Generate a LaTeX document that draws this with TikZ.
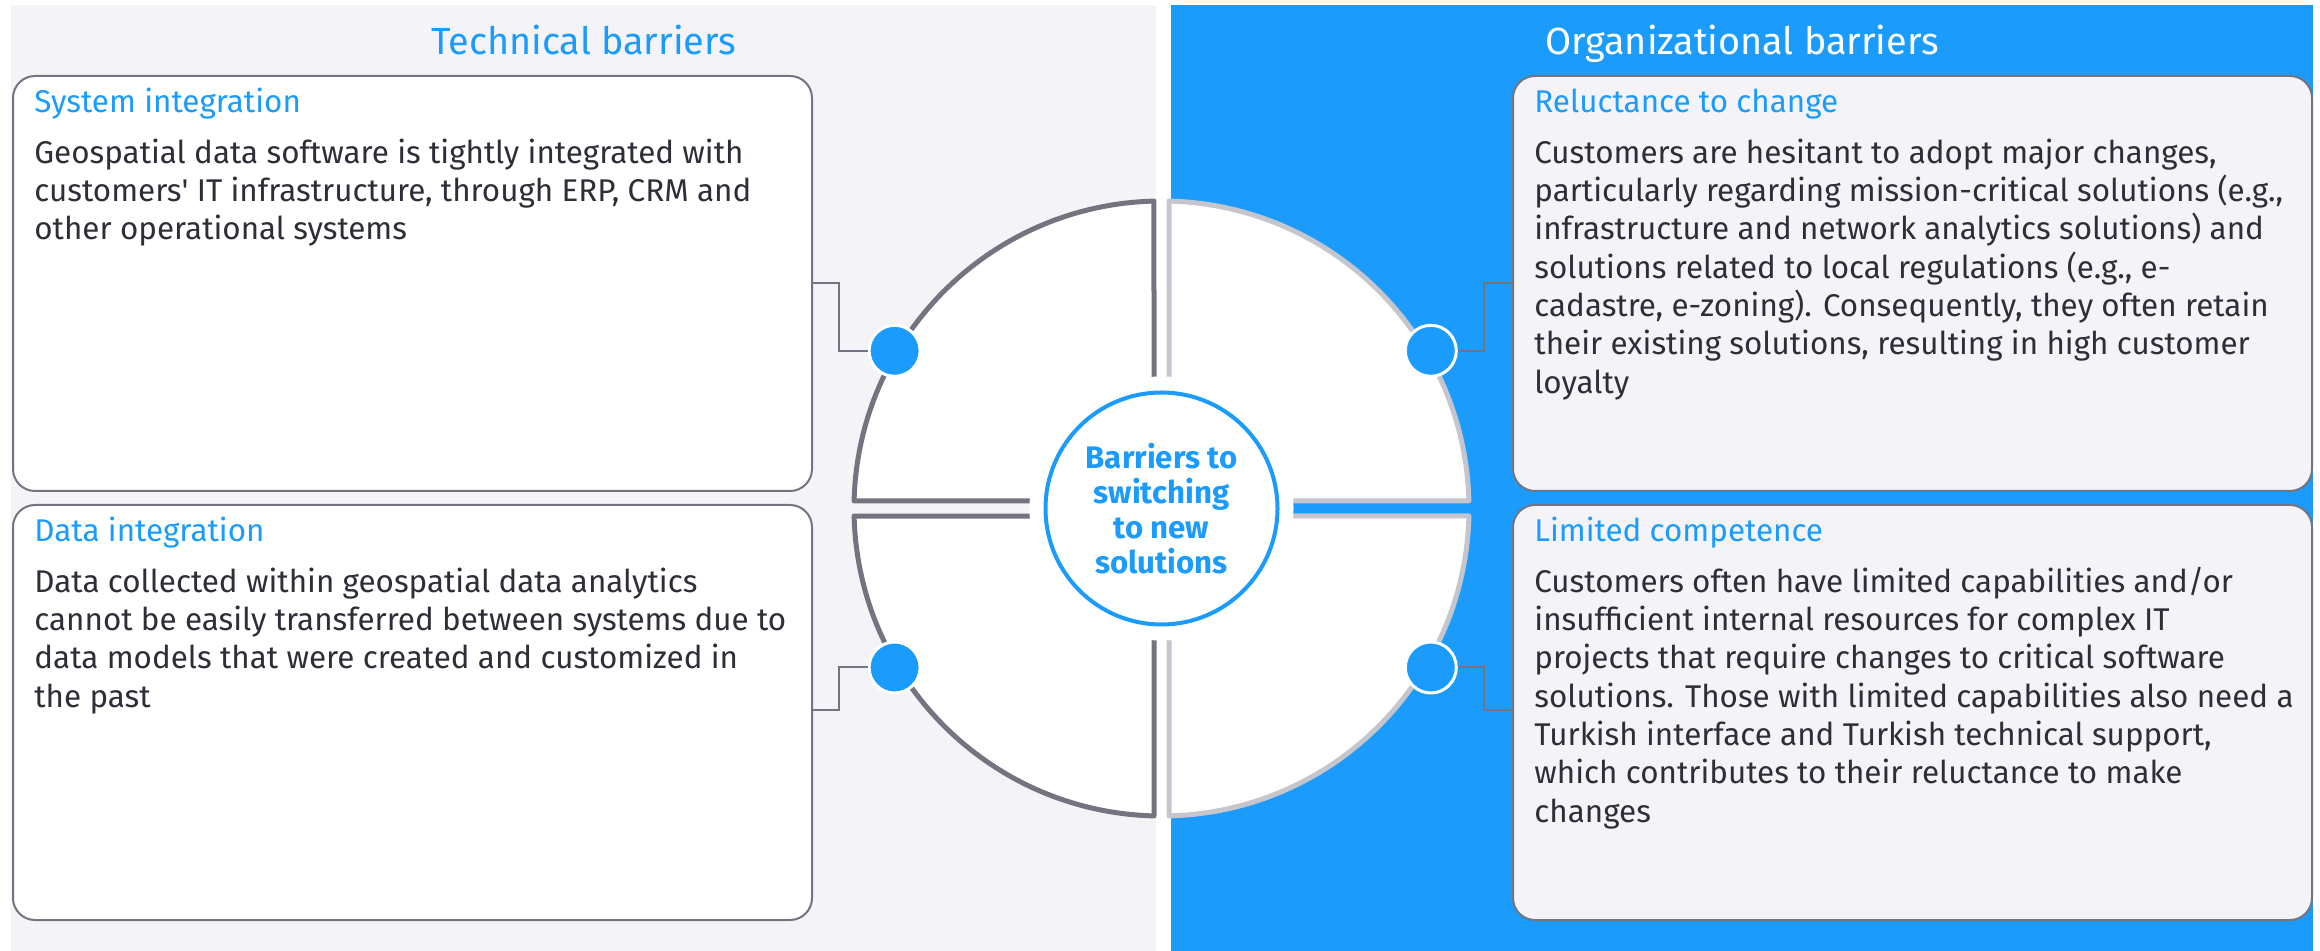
\documentclass[tikz,border=0pt]{standalone}
\usepackage{fontspec}
\setmainfont{Fira Sans}
\usetikzlibrary{calc}
\definecolor{eyblue}{RGB}{27,155,252}
\definecolor{panelgray}{RGB}{244,244,248}
\definecolor{darkline}{RGB}{116,116,128}
\definecolor{lightline}{RGB}{197,197,205}
\definecolor{textdark}{RGB}{46,46,56}
\newcommand{\bodyf}{\fontsize{15.7}{19.15}\selectfont}
\newcommand{\headf}{\fontsize{18.9}{22}\selectfont}
\newcommand{\centf}{\fontsize{15.6}{17.5}\selectfont\bfseries}
\tikzset{
  box/.style={draw=darkline, line width=1pt, rounded corners=11pt, anchor=north west,
    minimum width=399.5pt, minimum height=207.5pt, inner sep=0pt},
  boxtitle/.style={anchor=base west, inner sep=0pt, text=eyblue, font=\bodyf},
  boxbody/.style={anchor=north west, inner sep=0pt, align=left, text=textdark, font=\bodyf},
  dot/.style={circle, fill=eyblue, draw=white, line width=1.5pt, minimum size=25.5pt, inner sep=0pt},
  conn/.style={draw=darkline, line width=1pt},
  quadL/.style={fill=white, draw=darkline, line width=2.5pt, line join=round},
  quadR/.style={fill=white, draw=lightline, line width=2.5pt, line join=round},
  paneltitle/.style={anchor=base, inner sep=0pt, font=\headf}
}
\begin{document}
\begin{tikzpicture}[x=0.5pt,y=-0.5pt]
\useasboundingbox (0,0) rectangle (2320,951);
\fill[white] (0,0) rectangle (2320,951);
% panels
\fill[panelgray] (11,5) rectangle (1156,951);
\fill[eyblue] (1171,5) rectangle (2313,951);
% panel titles
\node[paneltitle, text=eyblue] (tt) at (583.5,55) {Technical barriers};
\node[paneltitle, text=white] (ot) at (1742,55) {Organizational barriers};
% boxes
\node[box, fill=white] (b1) at (12,75) {};
\node[box, fill=white] (b2) at (12,504) {};
\node[box, fill=panelgray] (b3) at (1512,75) {};
\node[box, fill=panelgray] (b4) at (1512,504) {};
% box titles
\node[boxtitle] (t1) at ($(b1.north west)+(22,38)$) {System integration};
\node[boxtitle] (t2) at ($(b2.north west)+(22,38)$) {Data integration};
\node[boxtitle] (t3) at ($(b3.north west)+(22,38)$) {Reluctance to change};
\node[boxtitle] (t4) at ($(b4.north west)+(22,38)$) {Limited competence};
% box bodies (first baseline at top+88)
\node[boxbody] (x1) at ($(b1.north west)+(22,88-26.8)$) {\rule{0pt}{13.4pt}Geospatial data software is tightly integrated with\\customers\textquotesingle{} IT infrastructure, through ERP, CRM and\\other operational systems};
\node[boxbody] (x2) at ($(b2.north west)+(22,88-26.8)$) {\rule{0pt}{13.4pt}Data collected within geospatial data analytics\\cannot be easily transferred between systems due to\\data models that were created and customized in\\the past};
\node[boxbody] (x3) at ($(b3.north west)+(22,88-26.8)$) {\rule{0pt}{13.4pt}Customers are hesitant to adopt major changes,\\particularly regarding mission-critical solutions (e.g.,\\infrastructure and network analytics solutions) and\\solutions related to local regulations (e.g., e-\\cadastre, e-zoning). Consequently, they often retain\\their existing solutions, resulting in high customer\\loyalty};
\node[boxbody] (x4) at ($(b4.north west)+(22,88-26.8)$) {\rule{0pt}{13.4pt}Customers often have limited capabilities and/or\\insufficient internal resources for complex IT\\projects that require changes to critical software\\solutions. Those with limited capabilities also need a\\Turkish interface and Turkish technical support,\\which contributes to their reluctance to make\\changes};
% quadrants
\coordinate (C) at (1161.5,508.5);
\def\g{7.5}
\def\rr{307.5}
\def\ss{307.41}
\def\aa{1.3976}
\path[quadL] ($(C)+(-\g,-\g)$) -- ($(C)+(-\ss,-\g)$) arc[start angle=180+\aa, end angle=270-\aa, radius=\rr] -- cycle;
\path[quadR] ($(C)+(\g,-\g)$) -- ($(C)+(\g,-\ss)$) arc[start angle=270+\aa, end angle=360-\aa, radius=\rr] -- cycle;
\path[quadR] ($(C)+(\g,\g)$) -- ($(C)+(\ss,\g)$) arc[start angle=\aa, end angle=90-\aa, radius=\rr] -- cycle;
\path[quadL] ($(C)+(-\g,\g)$) -- ($(C)+(-\g,\ss)$) arc[start angle=90+\aa, end angle=180-\aa, radius=\rr] -- cycle;
\fill[white] (C) circle[radius=132];
\node[circle, draw=eyblue, line width=2pt, fill=white, minimum size=116pt, inner sep=0pt,
  align=center, text=eyblue, font=\centf] (ctr) at (C) {Barriers to\\switching\\to new\\solutions};
% dots
\node[dot] (d1) at (894.6,350.8) {};
\node[dot] (d2) at (894.6,667.5) {};
\node[dot] (d3) at (1430.8,350.8) {};
\node[dot] (d4) at (1430.8,667.5) {};
% connectors
\coordinate (k1) at (838.5,282.7);
\coordinate (k2) at (839,710.5);
\coordinate (k3) at (1484,282.7);
\coordinate (k4) at (1484,710.5);
\draw[conn] (d1.west) -| (k1) -- (k1 -| b1.east);
\draw[conn] (d2.west) -| (k2) -- (k2 -| b2.east);
\draw[conn] (d3.east) -| (k3) -- (k3 -| b3.west);
\draw[conn] (d4.east) -| (k4) -- (k4 -| b4.west);
\end{tikzpicture}
\end{document}
